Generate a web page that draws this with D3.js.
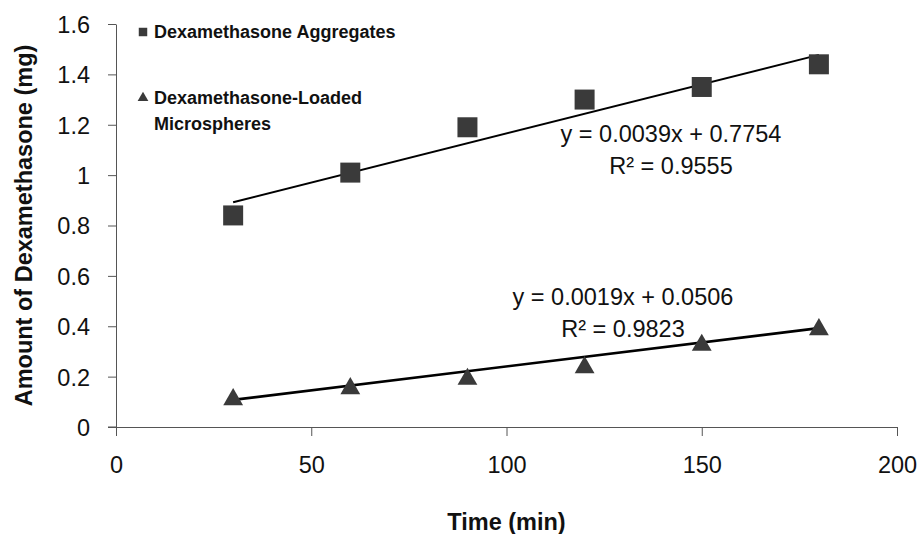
<!DOCTYPE html>
<html>
<head>
<meta charset="utf-8">
<script src="https://cdn.jsdelivr.net/npm/d3@7"></script>
<style>
  body { margin: 0; background: #fff; }
  text { font-family: "Liberation Sans", Arial, sans-serif; fill: #111; }
</style>
</head>
<body>
<div id="chart"></div>
<script>
// data
var times = [30, 60, 90, 120, 150, 180];
var aggregates = [0.84, 1.01, 1.19, 1.30, 1.35, 1.44];
var microspheres = [0.113, 0.157, 0.194, 0.24, 0.329, 0.391];
var xTicks = [0, 50, 100, 150, 200];
var yTicks = [0, 0.2, 0.4, 0.6, 0.8, 1, 1.2, 1.4, 1.6];
var aggFit = { slope: 0.0039, intercept: 0.7754, r2: "0.9555" };
var micFit = { slope: 0.0019, intercept: 0.0506, r2: "0.9823" };
var seriesNames = ["Dexamethasone Aggregates", "Dexamethasone-Loaded", "Microspheres"];

var width = 917, height = 534;
var markColor = "#3a3a3a";

var svg = d3.select("#chart").append("svg")
  .attr("width", width)
  .attr("height", height);

var x = d3.scaleLinear().domain([0, 200]).range([116, 897]);
var y = d3.scaleLinear().domain([0, 1.6]).range([427, 24]);

// axes
var xAxis = svg.append("g")
  .attr("transform", "translate(0," + y(0) + ")")
  .call(d3.axisBottom(x).tickValues(xTicks).tickSize(9).tickPadding(20).tickSizeOuter(0));
var yAxis = svg.append("g")
  .attr("transform", "translate(" + x(0) + ",0)")
  .call(d3.axisLeft(y).tickValues(yTicks).tickSize(8).tickPadding(18).tickSizeOuter(0)
    .tickFormat(function (d) { return d3.format("")(+d.toFixed(1)); }));

[xAxis, yAxis].forEach(function (a) {
  a.select(".domain").attr("stroke", "#555").attr("stroke-width", 1);
  a.selectAll(".tick line").attr("stroke", "#555");
  a.selectAll(".tick text")
    .style("font-family", "'Liberation Sans', Arial, sans-serif")
    .style("font-size", "23.5px")
    .attr("fill", "#111");
});
yAxis.selectAll(".tick text").attr("dy", "0.36em");
// x axis extends a little left of the y axis like the original
svg.append("line")
  .attr("x1", x(0) - 8).attr("x2", x(0))
  .attr("y1", y(0)).attr("y2", y(0))
  .attr("stroke", "#555");

// axis titles
svg.append("text")
  .attr("x", (x(0) + x(200)) / 2)
  .attr("y", 530)
  .attr("text-anchor", "middle")
  .style("font-weight", "bold")
  .style("font-size", "23.5px")
  .text("Time (min)");

svg.append("text")
  .attr("transform", "translate(32," + (y(0) + y(1.6)) / 2 + ") rotate(-90)")
  .attr("text-anchor", "middle")
  .style("font-weight", "bold")
  .style("font-size", "23.5px")
  .text("Amount of Dexamethasone (mg)");

// trend lines
function fitLine(fit) {
  return [times[0], times[times.length - 1]].map(function (t) {
    return [t, fit.slope * t + fit.intercept];
  });
}
var line = d3.line()
  .x(function (d) { return x(d[0]); })
  .y(function (d) { return y(d[1]); });

[aggFit, micFit].forEach(function (fit, i) {
  svg.append("path")
    .datum(fitLine(fit))
    .attr("d", line)
    .attr("fill", "none")
    .attr("stroke", "#000")
    .attr("stroke-width", i === 0 ? 2 : 2.6);
});

// markers
var square = d3.symbol().type(d3.symbolSquare).size(400);
var triangle = d3.symbol().type(d3.symbolTriangle).size(170);

svg.append("g").selectAll("path")
  .data(times)
  .enter()
  .append("path")
  .attr("d", square)
  .attr("transform", function (d, i) { return "translate(" + x(d) + "," + y(aggregates[i]) + ")"; })
  .attr("fill", markColor);

svg.append("g").selectAll("path")
  .data(times)
  .enter()
  .append("path")
  .attr("d", triangle)
  .attr("transform", function (d, i) { return "translate(" + x(d) + "," + (y(microspheres[i]) + 1) + ")"; })
  .attr("fill", markColor);

// equations
function eqLabel(fit, cx, baseY) {
  var s = fit.intercept.toFixed(4);
  svg.append("text")
    .attr("x", cx).attr("y", baseY)
    .attr("text-anchor", "middle")
    .style("font-size", "23.5px")
    .text("y = " + fit.slope.toFixed(4) + "x + " + s);
  svg.append("text")
    .attr("x", cx).attr("y", baseY + 32)
    .attr("text-anchor", "middle")
    .style("font-size", "23.5px")
    .text("R² = " + fit.r2);
}
eqLabel(aggFit, 671, 142);
eqLabel(micFit, 623, 305);

// legend
svg.append("path")
  .attr("d", d3.symbol().type(d3.symbolSquare).size(72))
  .attr("transform", "translate(143,32)")
  .attr("fill", markColor);
svg.append("path")
  .attr("d", d3.symbol().type(d3.symbolTriangle).size(50))
  .attr("transform", "translate(143,98)")
  .attr("fill", markColor);

svg.append("text").attr("x", 154).attr("y", 38)
  .style("font-weight", "bold").style("font-size", "18px")
  .text(seriesNames[0]);
svg.append("text").attr("x", 154).attr("y", 104)
  .style("font-weight", "bold").style("font-size", "18px")
  .text(seriesNames[1]);
svg.append("text").attr("x", 154).attr("y", 130)
  .style("font-weight", "bold").style("font-size", "18px")
  .text(seriesNames[2]);
</script>
</body>
</html>
